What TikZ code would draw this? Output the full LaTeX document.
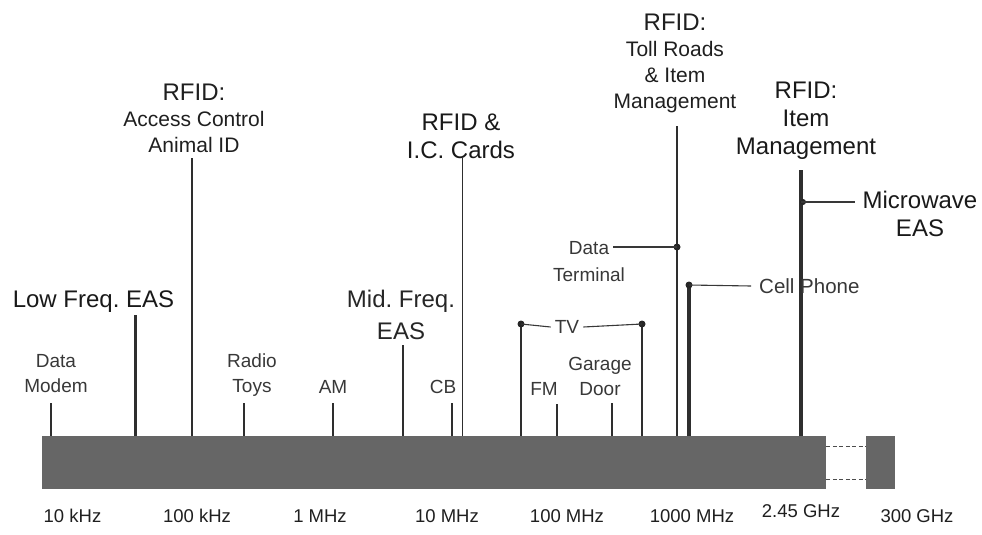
\documentclass[tikz,border=0pt]{standalone}
\usepackage{fontspec}
\setmainfont{Liberation Sans}
\usepackage{tikz}
\usetikzlibrary{positioning,calc}
\usepackage{xcolor}
\frenchspacing

\begin{document}
\begin{tikzpicture}[
    x=1pt,y=-1pt,
    tk/.style={black!82},
    lk/.style={line width=1.1pt,black!78},
    dt/.style={circle,fill=black!85,inner sep=0pt,minimum size=7pt},
    big/.style={font=\fontsize{24}{28}\selectfont,text=black!90,align=center,inner sep=0pt},
    mid/.style={font=\fontsize{21}{26}\selectfont,text=black!88,align=center,inner sep=0pt},
    sm/.style={font=\fontsize{19}{25}\selectfont,text=black!78,align=center,inner sep=0pt},
    fq/.style={font=\fontsize{18.5}{22}\selectfont,text=black!88,inner sep=0pt}
  ]
    \useasboundingbox (0,0) rectangle (982,535);
    % spectrum bar and the far block
    \node[fill=black!60,minimum width=784pt,minimum height=53.5pt,inner sep=0pt,anchor=north west] (bar) at (42,435.5) {};
    \node[fill=black!60,minimum width=29pt,minimum height=53.5pt,inner sep=0pt,anchor=north west] (blk) at (866,435.5) {};
    \draw[black!70,line width=1pt,dash pattern=on 4pt off 2.5pt] ([yshift=-10.5pt]bar.north east) -- ([yshift=-10.5pt]blk.north west);
    \draw[black!70,line width=1pt,dash pattern=on 4pt off 2.5pt] ([yshift=9.5pt]bar.south east) -- ([yshift=9.5pt]blk.south west);
    % ticks
    \foreach \n/\x/\y/\w in {dm/50.7/403/2.2,lf/135/315/3,ac/192/158/1.4,rt/244/403/2.2,am/333/403/2.2,mf/403/345/2.5,cb/452/403/2.4,ic/462.5/158/1.4,tvl/521/324/2.4,fm/557/404/2.8,gd/612/403/2,tvr/642/324/2.4,tr/677/126/1.5,cp/689/285/3.4,ri/801/170/4.2}
      {\coordinate (\n) at (\x,\y); \draw[tk,line width=\w pt] (\n) -- (\n |- bar.north);}
    \coordinate (dtd) at (677,247); \coordinate (mwd) at (801,202);
    \foreach \d in {tvl,tvr,cp,dtd} {\node[dt] at (\d) {};}
    \node[dt,minimum size=6pt] at ([xshift=2pt]mwd) {};
    % labels
    \node[sm] (dml) at (56,373.5) {Data\\Modem};
    \node[big] (lfl) at (93.5,302) {Low Freq. EAS};
    \node[mid] (acl) at (194,118) {{\fontsize{24}{28}\selectfont RFID:}\\Access Control\\Animal ID};
    \node[sm] (rtl) at (252,375) {Radio\\Toys};
    \node[sm] (aml) at (333,386.5) {AM};
    \node[big,text=black!85] (mfl) at (401,315) {Mid. Freq.\\[4pt]EAS};
    \node[sm] (cbl) at (443,386.5) {CB};
    \node[big] (icl) at (461,136) {RFID \&\\I.C. Cards};
    \node[sm] (fml) at (544,388.5) {FM};
    \node[sm] (gdl) at (600,376) {Garage\\Door};
    \node[sm,inner sep=4pt] (tvt) at (567,327) {TV};
    \node[sm] (dt1) at (589,248) {Data};
    \node[sm] (dt2) at (589,275) {Terminal};
    \node[mid] (trl) at (675,63) {{\fontsize{24}{28}\selectfont RFID:}\\Toll Roads\\\& Item\\Management};
    \node[sm,font=\fontsize{20.5}{25}\selectfont,anchor=west] (cpl) at (759,286) {Cell Phone};
    \node[big] (ril) at (806,121) {RFID:\\Item\\Management};
    \node[big] (mwl) at (920,214) {Microwave\\EAS};
    % links
    \draw[lk] (tvl) -- (tvt.west);
    \draw[lk] (tvt.east) -- (tvr);
    \draw[lk] (dtd) -- ([xshift=4pt]dtd -| dt1.east);
    \draw[lk] (cp) -- ([xshift=-8pt]cpl.west);
    \draw[lk] (mwd) -- ([xshift=-7pt]mwd -| mwl.west);
    % frequency scale
    \foreach \n/\x/\t in {f1/72.5/10 kHz,f2/197/100 kHz,f3/320/1 MHz,f4/447/10 MHz,f5/567/100 MHz,f6/692/1000 MHz,f8/917/300 GHz}
      {\node[fq] (\n) at (\x,516) {\t};}
    \node[fq] (f7) at (801,511) {2.45 GHz};
  \end{tikzpicture}
\end{document}
